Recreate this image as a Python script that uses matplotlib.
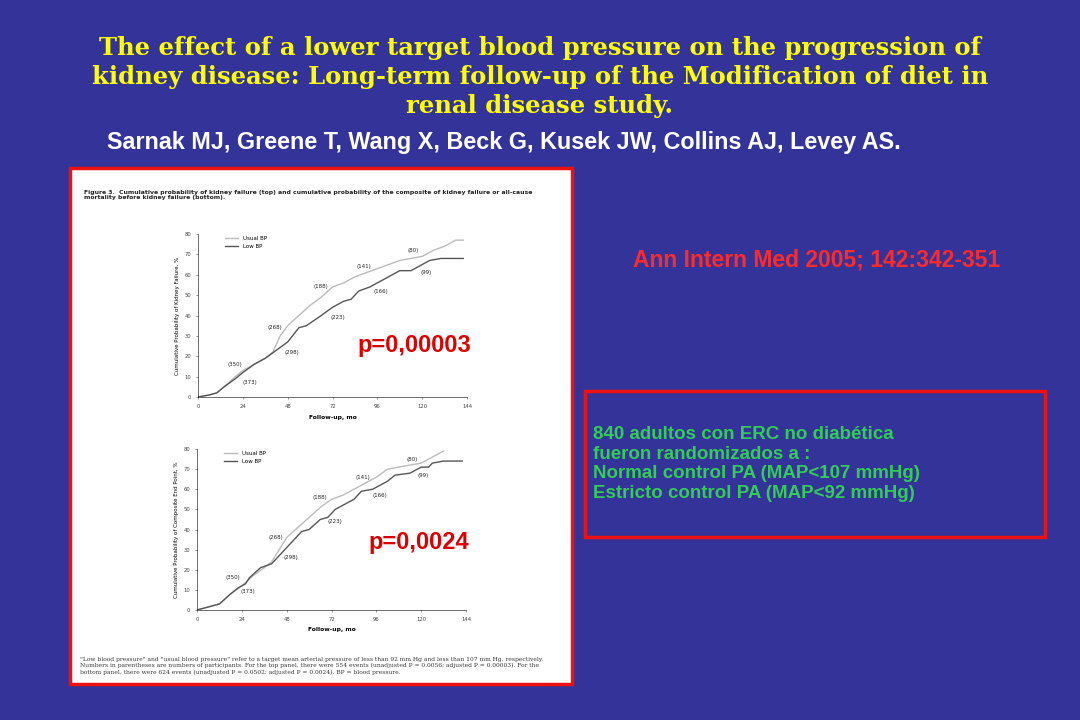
import matplotlib
matplotlib.use("Agg")
import matplotlib.pyplot as plt
from matplotlib.patches import Rectangle

W, H = 1080, 720
BG = "#333399"

top_usual_x = [0,6,10,14,20,24,30,36,40,44,48,54,60,66,72,78,84,90,96,102,108,114,120,126,132,138,142]
top_usual_y = [0,1,2,5,10,13,16,19,22,30,35,40,45,49,54,56,59,61,63,65,67,68,69,72,74,77,77]
top_low_x = [0,6,10,14,20,24,30,36,42,48,54,58,66,72,78,82,86,92,96,102,108,114,120,124,130,142]
top_low_y = [0,1,2,5,9,12,16,19,23,27,34,35,40,44,47,48,52,54,56,59,62,62,65,67,68,68]
bot_usual_x = [0,12,18,24,30,36,40,44,48,54,60,66,72,78,84,90,96,102,108,114,120,126,132]
bot_usual_y = [0,3,8,12,17,21,24,30,36,41,46,51,55,57,60,63,66,70,71,72,73,76,79]
bot_low_x = [0,12,18,22,26,28,34,40,44,48,52,56,60,66,70,74,80,84,88,94,98,102,106,114,120,124,126,132,136,142]
bot_low_y = [0,3,8,11,13,16,21,23,27,31,35,39,40,45,46,50,53,55,59,60,62,64,67,68,71,71,73,74,74,74]
x_ticks = [0,24,48,72,96,120,144]
y_ticks = [0,10,20,30,40,50,60,70,80]
top_labels = [("(350)",20,16),("(373)",28,7),("(268)",41,34),("(298)",50,22),("(188)",66,54),("(223)",75,39),("(141)",89,64),("(166)",98,52),("(80)",115,72),("(99)",122,61)]
bot_labels = [("(350)",19,16),("(373)",27,9),("(268)",42,36),("(298)",50,26),("(188)",66,56),("(223)",74,44),("(141)",89,66),("(166)",98,57),("(80)",115,75),("(99)",121,67)]

fig = plt.figure(figsize=(W/100, H/100), dpi=100, facecolor=BG)

def fx(px): return px / W
def fy(py): return 1 - py / H

fig.text(0.5, fy(77), "The effect of a lower target blood pressure on the progression of\nkidney disease: Long-term follow-up of the Modification of diet in\nrenal disease study.",
         ha="center", va="center", color="#FFFF00", fontsize=17.5, fontweight="bold",
         family="DejaVu Serif", linespacing=1.25)
fig.text(fx(107), fy(143), "Sarnak MJ, Greene T, Wang X, Beck G, Kusek JW, Collins AJ, Levey AS.",
         ha="left", va="center", color="white", fontsize=16.8, fontweight="bold", family="Liberation Sans")
fig.text(fx(817), fy(260), "Ann Intern Med 2005; 142:342-351", ha="center", va="center",
         color="#FF2A2A", fontsize=16.5, fontweight="bold", family="Liberation Sans")

# white panel
fig.add_artist(Rectangle((fx(70), fy(684)), fx(502), 516/H, transform=fig.transFigure,
                         facecolor="white", edgecolor="#EE1111", linewidth=2.5, zorder=-5))
fig.text(fx(84), fy(195), "Figure 3.  Cumulative probability of kidney failure (top) and cumulative probability of the composite of kidney failure or all-cause\nmortality before kidney failure (bottom).",
         ha="left", va="center", fontsize=4.4, color="#222222", fontweight="bold")
fig.text(fx(80), fy(666), "\"Low blood pressure\" and \"usual blood pressure\" refer to a target mean arterial pressure of less than 92 mm Hg and less than 107 mm Hg, respectively.\nNumbers in parentheses are numbers of participants. For the top panel, there were 554 events (unadjusted P = 0.0056; adjusted P = 0.00003). For the\nbottom panel, there were 624 events (unadjusted P = 0.0502; adjusted P = 0.0024). BP = blood pressure.",
         ha="left", va="center", fontsize=4.3, color="#333333", family="DejaVu Serif")

# right box
fig.add_artist(Rectangle((fx(585), fy(537)), fx(460), 146/H, transform=fig.transFigure,
                         facecolor="none", edgecolor="#EE1111", linewidth=2.5))
fig.text(fx(593), fy(464), "840 adultos con ERC no diabética\nfueron randomizados a :\nNormal control PA (MAP<107 mmHg)\nEstricto control PA (MAP<92 mmHg)",
         ha="left", va="center", color="#33CC55", fontsize=13.5, fontweight="bold",
         family="Liberation Sans", linespacing=1.2)

def panel(x0, x1, y0, y80, ux, uy, lx, ly, ylab, labels, ptxt, pxy):
    ax = fig.add_axes([fx(x0), fy(y0), fx(x1 - x0), (y0 - y80) / H])
    ax.set_facecolor("white")
    ax.plot(ux, uy, color="#BBBBBB", lw=1.0, label="Usual BP")
    ax.plot(lx, ly, color="#555555", lw=1.0, label="Low BP")
    ax.set_xlim(0, 144); ax.set_ylim(0, 80)
    ax.set_xticks(x_ticks); ax.set_yticks(y_ticks)
    ax.tick_params(labelsize=3.8, length=1.5, width=0.4, colors="#444444")
    for s in ("top", "right"): ax.spines[s].set_visible(False)
    for s in ("left", "bottom"): ax.spines[s].set_linewidth(0.4)
    ax.set_xlabel("Follow-up, mo", fontsize=4.3, fontweight="bold", labelpad=4)
    ax.set_ylabel(ylab, fontsize=4, labelpad=3)
    ax.legend(loc="upper left", bbox_to_anchor=(0.08, 1.02), fontsize=4, frameon=False, handlelength=2.5)
    for t, x, y in labels:
        ax.text(x, y, t, fontsize=4, ha="center", va="center", color="#222222")
    fig.text(fx(pxy[0]), fy(pxy[1]), ptxt, ha="center", va="center", color="#DD0000",
             fontsize=17, fontweight="bold", family="Liberation Sans")

panel(198, 467, 397, 234, top_usual_x, top_usual_y, top_low_x, top_low_y,
      "Cumulative Probability of Kidney Failure, %", top_labels, "p=0,00003", (414, 345))
panel(197, 466, 610, 449, bot_usual_x, bot_usual_y, bot_low_x, bot_low_y,
      "Cumulative Probability of Composite End Point, %", bot_labels, "p=0,0024", (419, 543))

fig.savefig("out.png", dpi=100, facecolor=BG)
